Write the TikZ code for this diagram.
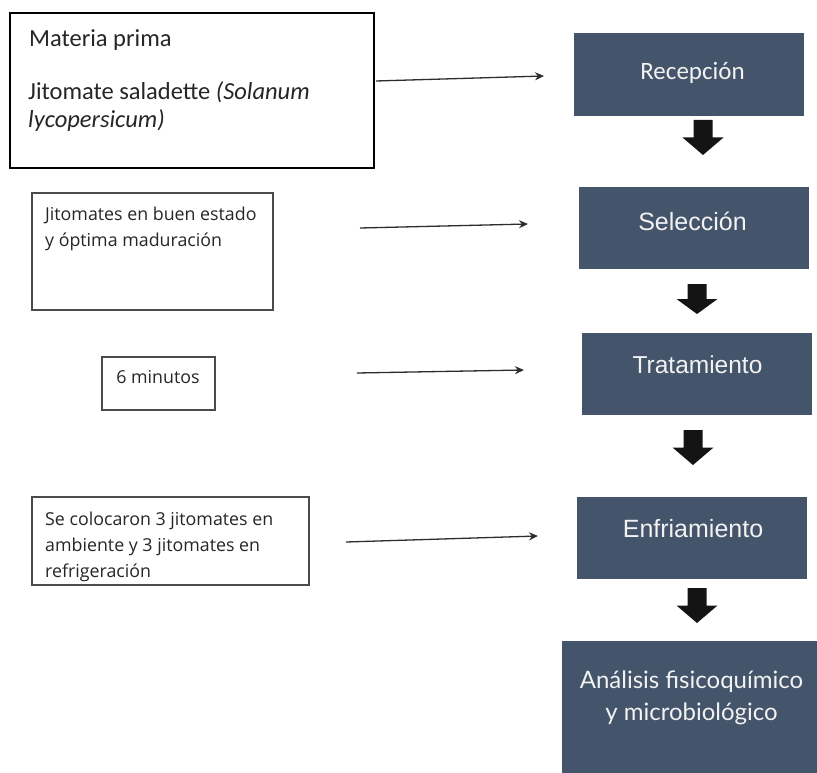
\documentclass[tikz,border=0pt]{standalone}
\usepackage{fontspec}
\setmainfont{Carlito}
\newfontfamily\arialf{Liberation Sans}
\newfontfamily\latof{Lato}
\newfontfamily\opensf{Open Sans}
\usetikzlibrary{arrows.meta}
\definecolor{boxblue}{RGB}{68,84,106}
\definecolor{boxline}{RGB}{75,75,75}
\definecolor{textlight}{RGB}{242,242,242}
\definecolor{arrowgray}{RGB}{45,45,45}
\tikzset{
  notebox/.style={draw=boxline, line width=1.4pt, fill=white, inner sep=0pt, outer sep=0pt, anchor=north west},
  stepbox/.style={fill=boxblue, draw=none, inner sep=0pt, outer sep=0pt, anchor=north west},
  notetext/.style={inner sep=0pt, anchor=base west, text=black!85},
  smalltext/.style={notetext, font=\opensf\fontsize{17.8}{20}\selectfont},
  bigtext/.style={notetext, font=\fontsize{24.5}{28}\selectfont},
  steptext/.style={inner sep=0pt, anchor=base, text=textlight},
  thinarrow/.style={draw=arrowgray, line width=1.3pt, -{Stealth[length=9pt,width=8pt]}},
  blockfill/.style={fill=black!92}
}
\newcommand\blkarrow[3]{%
  \fill[blockfill] (#1-9.5,#2) -- (#1+9.5,#2) -- (#1+9.5,#2+0.5*#3) -- (#1+20.5,#2+0.5*#3)
    -- (#1,#2+#3) -- (#1-20.5,#2+0.5*#3) -- (#1-9.5,#2+0.5*#3) -- cycle;}
\begin{document}
\begin{tikzpicture}[x=1pt,y=-1pt]
\useasboundingbox (0,0) rectangle (817,773);
\fill[white] (0,0) rectangle (817,773);

% left note boxes
\node[notebox, draw=black, line width=1.6pt, minimum width=364pt, minimum height=155pt] (mp) at (10,13) {};
\node[notebox, minimum width=241pt, minimum height=117pt] (sel_note) at (32,193) {};
\node[notebox, minimum width=113pt, minimum height=53pt] (tra_note) at (102,357) {};
\node[notebox, minimum width=277pt, minimum height=88pt] (enf_note) at (32,497) {};

% texts in note boxes
\node[bigtext] (t1) at (29,47) {Materia prima};
\node[bigtext] (t2) at (28,100) {Jitomate saladette \textit{(Solanum}};
\node[bigtext] (t3) at (28,128) {\textit{lycopersicum)}};

\node[smalltext] (t4) at (45,220) {Jitomates en buen estado};
\node[smalltext] (t5) at (45,246) {y óptima maduración};

\node[smalltext, anchor=base] (t6) at (158,383) {6 minutos};

\node[smalltext] (t7) at (45,525) {Se colocaron 3 jitomates en};
\node[smalltext] (t8) at (45,551) {ambiente y 3 jitomates en};
\node[smalltext] (t9) at (45,577) {refrigeración};

% step boxes
\node[stepbox, minimum width=230pt, minimum height=83pt] (rec) at (574,33) {};
\node[stepbox, minimum width=230pt, minimum height=82pt] (sel) at (579,187) {};
\node[stepbox, minimum width=230pt, minimum height=82pt] (tra) at (582,333) {};
\node[stepbox, minimum width=230pt, minimum height=82pt] (enf) at (577,497) {};
\node[stepbox, minimum width=255pt, minimum height=132pt] (ana) at (562,641) {};

\node[steptext, font=\fontsize{25}{30}\selectfont] (rect) at (692.5,80) {Recepción};
\node[steptext, font=\arialf\fontsize{25}{30}\selectfont] (selt) at (692.5,230) {Selección};
\node[steptext, font=\arialf\fontsize{24.5}{30}\selectfont] (trat) at (697.5,373) {Tratamiento};
\node[steptext, font=\arialf\fontsize{25}{30}\selectfont] (enft) at (693,537) {Enfriamiento};
\node[steptext, font=\latof\fontsize{24}{30}\selectfont] (anat1) at (691.5,688) {Análisis fisicoquímico};
\node[steptext, font=\latof\fontsize{24}{30}\selectfont] (anat2) at (691.5,720) {y microbiológico};

% block arrows between steps
\blkarrow{703}{120}{35}
\blkarrow{697}{284}{30}
\blkarrow{693}{430}{35}
\blkarrow{697}{588}{35}

% thin arrows
\coordinate (a1s) at (376,81);  \coordinate (a1e) at (544,76);
\coordinate (a2s) at (360,228); \coordinate (a2e) at (528,224);
\coordinate (a3s) at (357,373); \coordinate (a3e) at (524,370);
\coordinate (a4s) at (346,542); \coordinate (a4e) at (538,536);
\draw[thinarrow] (a1s) -- (a1e);
\draw[thinarrow] (a2s) -- (a2e);
\draw[thinarrow] (a3s) -- (a3e);
\draw[thinarrow] (a4s) -- (a4e);
\end{tikzpicture}
\end{document}
